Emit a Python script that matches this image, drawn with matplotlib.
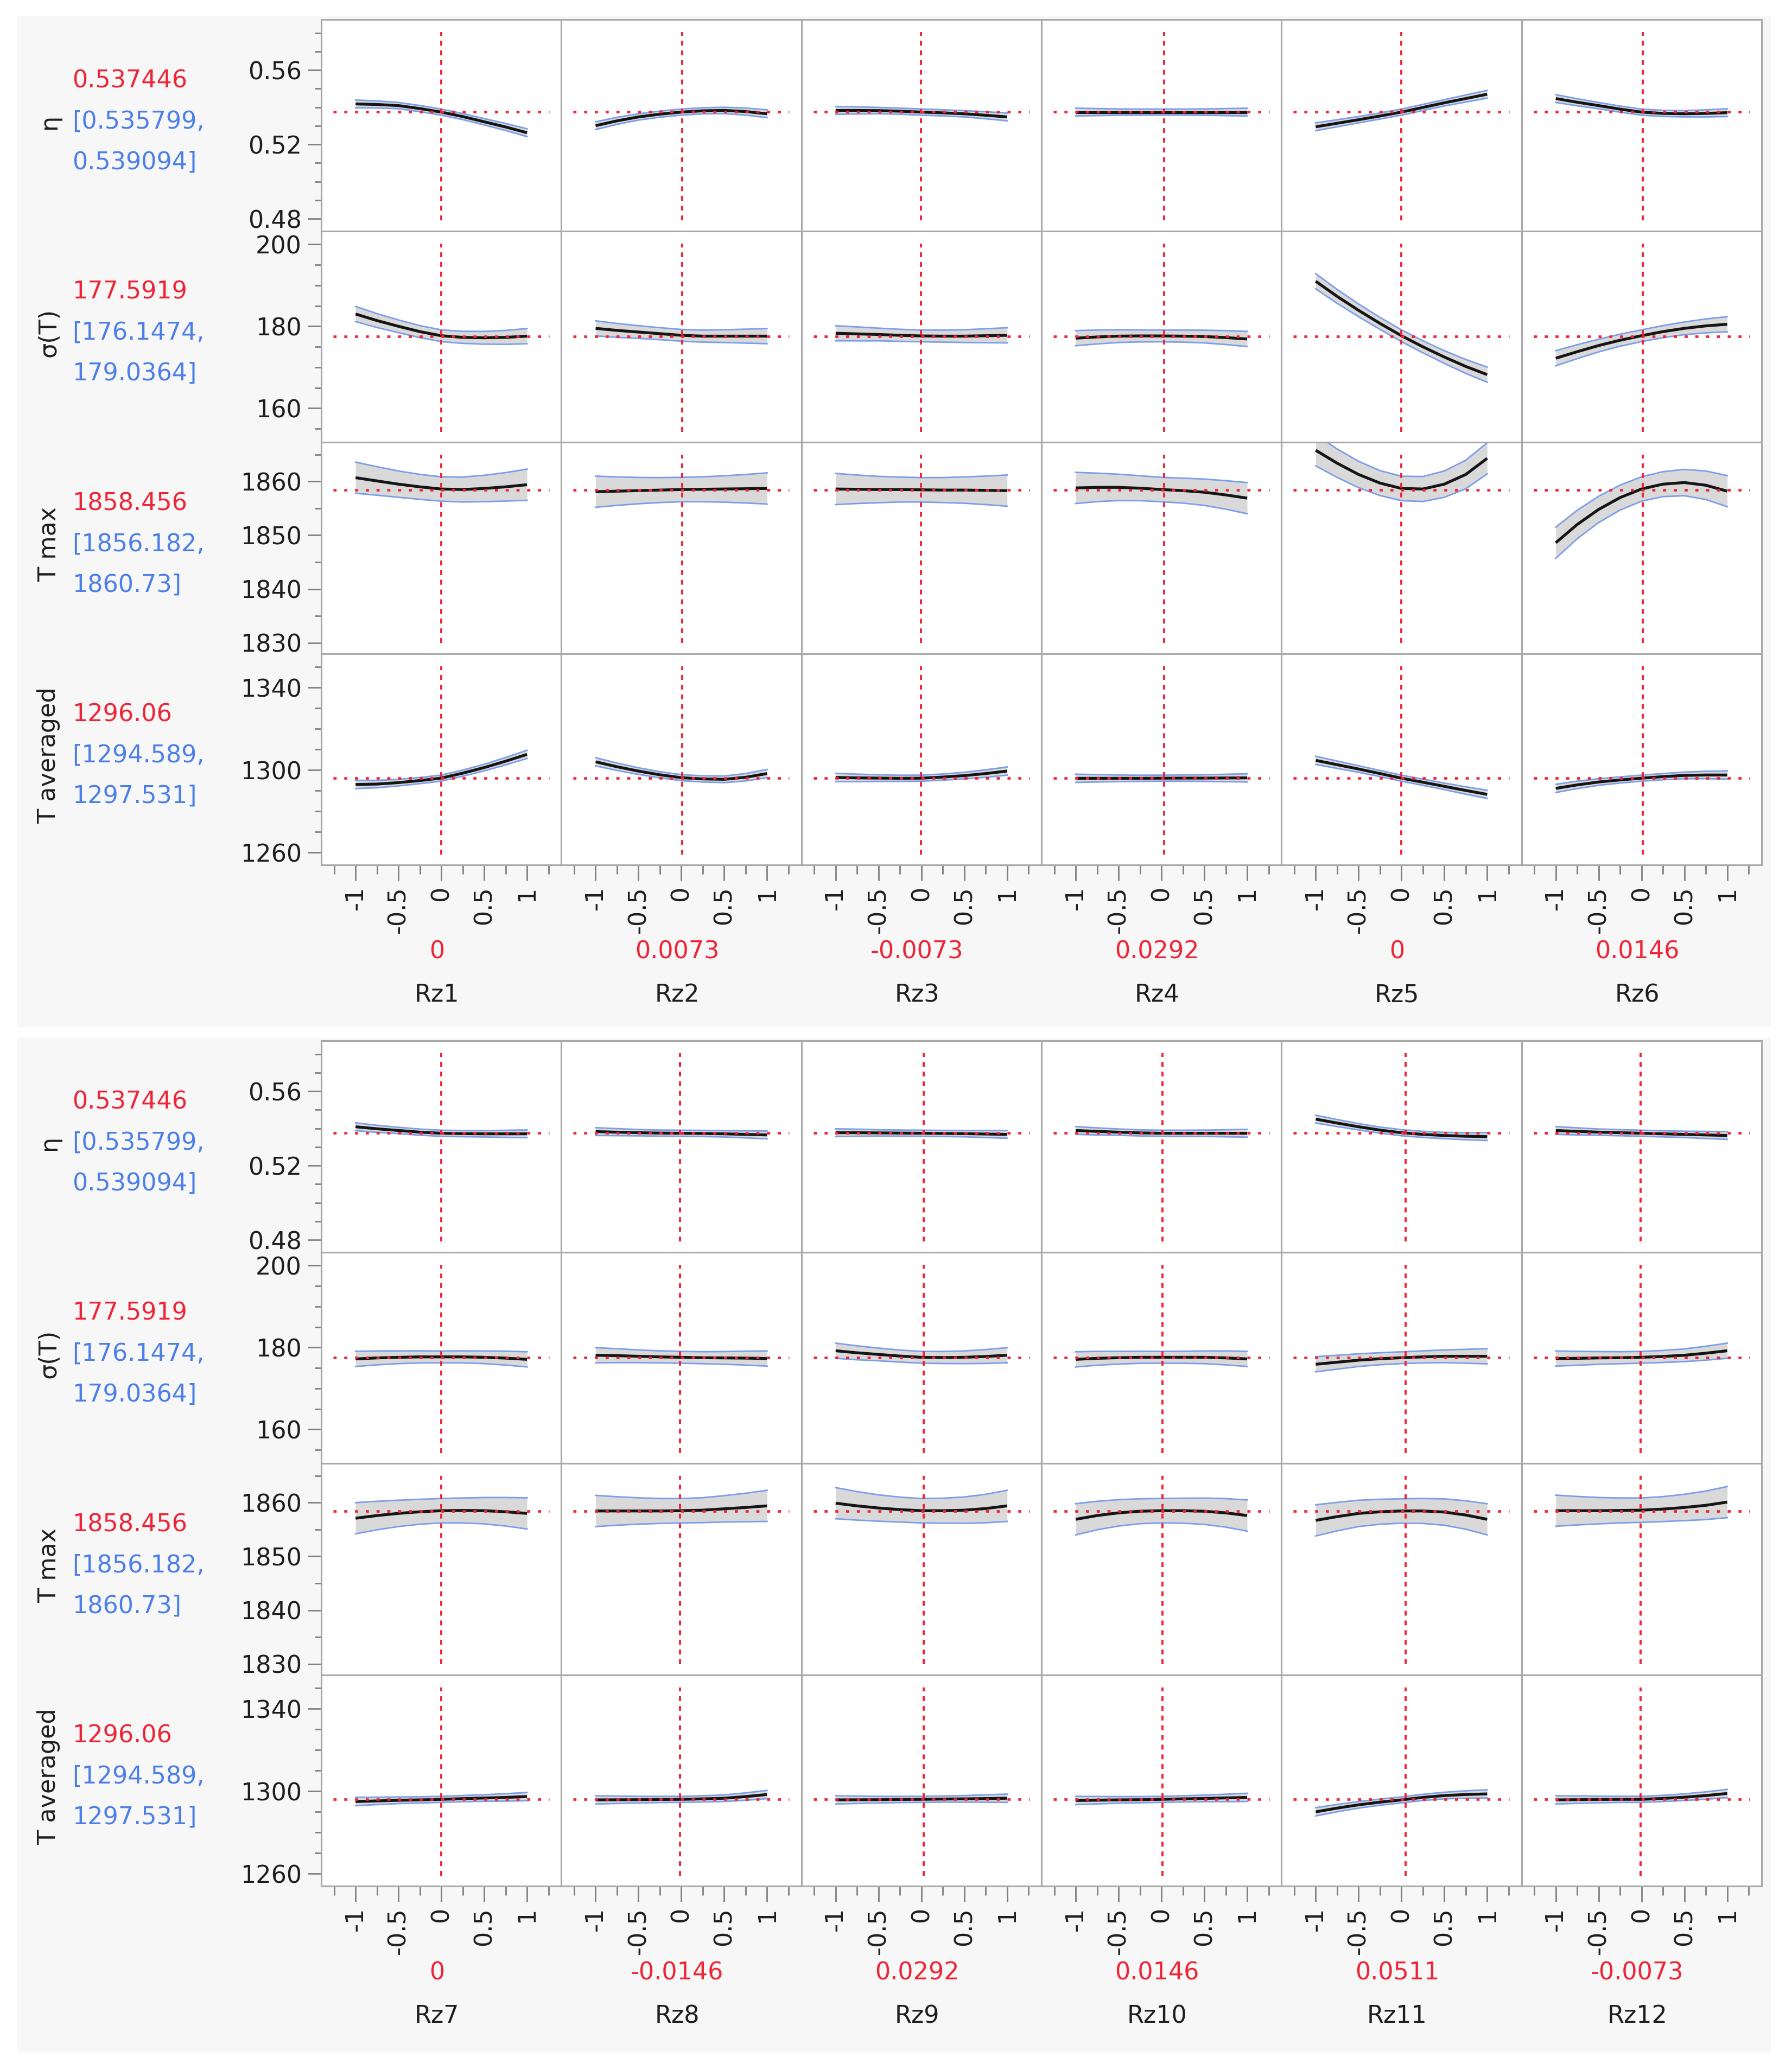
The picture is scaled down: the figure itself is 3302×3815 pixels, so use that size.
'''Prediction profiler: 4 responses against Rz1..Rz12, two blocks of six factors'''
import matplotlib.pyplot as plt
from matplotlib.patches import Rectangle
from matplotlib.ticker import MultipleLocator

# ---- data ----
factors = ['Rz1', 'Rz2', 'Rz3', 'Rz4', 'Rz5', 'Rz6',
           'Rz7', 'Rz8', 'Rz9', 'Rz10', 'Rz11', 'Rz12']
current = [0, 0.0073, -0.0073, 0.0292, 0, 0.0146,
           0, -0.0146, 0.0292, 0.0146, 0.0511, -0.0073]

responses = ['η', 'σ(T)', 'T max', 'T averaged']
pred = [0.537446, 177.5919, 1858.456, 1296.06]
pred_lo = [0.535799, 176.1474, 1856.182, 1294.589]
pred_hi = [0.539094, 179.0364, 1860.73, 1297.531]

x_levels = [-1, -0.75, -0.5, -0.25, 0, 0.25, 0.5, 0.75, 1]

eta_curve = [
    [0.5418, 0.5415, 0.5409, 0.5393, 0.5374, 0.5350, 0.5322, 0.5294, 0.5263],
    [0.5301, 0.5327, 0.5348, 0.5363, 0.5374, 0.5381, 0.5383, 0.5377, 0.5365],
    [0.5383, 0.5383, 0.5382, 0.5379, 0.5374, 0.5370, 0.5365, 0.5357, 0.5348],
    [0.5374, 0.5374, 0.5374, 0.5374, 0.5374, 0.5374, 0.5374, 0.5374, 0.5374],
    [0.5295, 0.5314, 0.5333, 0.5353, 0.5374, 0.5399, 0.5424, 0.5447, 0.5470],
    [0.5447, 0.5427, 0.5409, 0.5390, 0.5374, 0.5367, 0.5365, 0.5367, 0.5371],
    [0.5409, 0.5398, 0.5389, 0.5380, 0.5374, 0.5372, 0.5371, 0.5371, 0.5371],
    [0.5383, 0.5380, 0.5377, 0.5375, 0.5374, 0.5373, 0.5371, 0.5368, 0.5365],
    [0.5377, 0.5377, 0.5376, 0.5375, 0.5374, 0.5373, 0.5372, 0.5370, 0.5368],
    [0.5389, 0.5384, 0.5380, 0.5376, 0.5374, 0.5374, 0.5374, 0.5374, 0.5374],
    [0.5450, 0.5429, 0.5409, 0.5391, 0.5377, 0.5368, 0.5362, 0.5358, 0.5356],
    [0.5389, 0.5384, 0.5380, 0.5377, 0.5374, 0.5371, 0.5368, 0.5365, 0.5362],
]
sigma_curve = [
    [183.0, 181.4, 180.0, 178.7, 177.7, 177.3, 177.2, 177.3, 177.6],
    [179.5, 179.0, 178.6, 178.2, 177.8, 177.6, 177.6, 177.6, 177.6],
    [178.3, 178.15, 178.0, 177.8, 177.65, 177.6, 177.6, 177.7, 177.8],
    [177.1, 177.4, 177.6, 177.65, 177.65, 177.6, 177.5, 177.25, 176.9],
    [191.0, 187.3, 183.9, 180.7, 177.7, 175.0, 172.5, 170.2, 168.2],
    [172.2, 173.8, 175.3, 176.6, 177.7, 178.7, 179.5, 180.1, 180.5],
    [177.2, 177.45, 177.6, 177.7, 177.7, 177.7, 177.6, 177.4, 177.1],
    [178.1, 178.0, 177.85, 177.7, 177.6, 177.5, 177.45, 177.4, 177.3],
    [179.2, 178.7, 178.3, 177.9, 177.6, 177.55, 177.6, 177.8, 178.1],
    [177.1, 177.35, 177.5, 177.6, 177.6, 177.6, 177.6, 177.45, 177.2],
    [175.9, 176.4, 176.9, 177.25, 177.5, 177.7, 177.85, 177.85, 177.85],
    [177.3, 177.35, 177.45, 177.5, 177.6, 177.8, 178.1, 178.6, 179.2],
]
tmax_curve = [
    [1860.7, 1860.1, 1859.5, 1859.0, 1858.6, 1858.5, 1858.7, 1859.0, 1859.4],
    [1858.1, 1858.2, 1858.3, 1858.4, 1858.5, 1858.55, 1858.6, 1858.65, 1858.7],
    [1858.6, 1858.55, 1858.5, 1858.5, 1858.45, 1858.4, 1858.4, 1858.35, 1858.3],
    [1858.8, 1858.9, 1858.9, 1858.75, 1858.5, 1858.3, 1858.0, 1857.5, 1856.9],
    [1865.8, 1863.4, 1861.3, 1859.7, 1858.7, 1858.6, 1859.5, 1861.3, 1864.3],
    [1848.6, 1852.0, 1854.8, 1857.0, 1858.6, 1859.5, 1859.8, 1859.3, 1858.2],
    [1857.1, 1857.6, 1858.0, 1858.3, 1858.5, 1858.55, 1858.5, 1858.3, 1858.0],
    [1858.45, 1858.45, 1858.45, 1858.45, 1858.5, 1858.6, 1858.85, 1859.1, 1859.4],
    [1859.9, 1859.4, 1859.0, 1858.7, 1858.5, 1858.5, 1858.6, 1858.9, 1859.4],
    [1856.9, 1857.6, 1858.1, 1858.4, 1858.5, 1858.5, 1858.4, 1858.1, 1857.6],
    [1856.7, 1857.4, 1858.0, 1858.3, 1858.45, 1858.45, 1858.25, 1857.7, 1856.9],
    [1858.5, 1858.5, 1858.5, 1858.55, 1858.6, 1858.8, 1859.1, 1859.5, 1860.1],
]
tavg_curve = [
    [1293.0, 1293.2, 1293.9, 1294.9, 1296.1, 1298.5, 1301.2, 1304.3, 1307.6],
    [1304.0, 1301.6, 1299.5, 1297.7, 1296.3, 1295.7, 1295.5, 1296.5, 1298.3],
    [1296.4, 1296.2, 1296.1, 1296.0, 1296.06, 1296.6, 1297.3, 1298.3, 1299.5],
    [1296.0, 1296.0, 1296.0, 1296.0, 1296.06, 1296.1, 1296.1, 1296.15, 1296.2],
    [1304.7, 1302.6, 1300.5, 1298.3, 1296.06, 1294.1, 1292.1, 1290.1, 1288.2],
    [1291.1, 1292.8, 1294.2, 1295.2, 1296.06, 1296.8, 1297.4, 1297.6, 1297.6],
    [1295.0, 1295.3, 1295.6, 1295.8, 1296.06, 1296.4, 1296.7, 1297.0, 1297.4],
    [1295.8, 1295.85, 1295.9, 1296.0, 1296.06, 1296.3, 1296.6, 1297.4, 1298.4],
    [1295.8, 1295.85, 1295.9, 1296.0, 1296.06, 1296.2, 1296.3, 1296.45, 1296.6],
    [1295.5, 1295.65, 1295.8, 1295.9, 1296.06, 1296.3, 1296.5, 1296.75, 1297.0],
    [1290.0, 1291.8, 1293.4, 1294.7, 1295.8, 1297.0, 1297.9, 1298.4, 1298.7],
    [1295.8, 1295.9, 1296.0, 1296.06, 1296.06, 1296.5, 1297.1, 1297.9, 1298.9],
]

# half width of the confidence band at each x level (same shape for every factor)
eta_hw = [0.0021, 0.0019, 0.0017, 0.00165, 0.00165, 0.00165, 0.0017, 0.0019, 0.0021]
sigma_hw = [1.85, 1.7, 1.55, 1.47, 1.44, 1.47, 1.55, 1.7, 1.85]
tmax_hw = [2.9, 2.65, 2.45, 2.32, 2.27, 2.32, 2.45, 2.65, 2.9]
tavg_hw = [2.0, 1.8, 1.6, 1.5, 1.47, 1.5, 1.6, 1.8, 2.0]

curves = [eta_curve, sigma_curve, tmax_curve, tavg_curve]
hws = [eta_hw, sigma_hw, tmax_hw, tavg_hw]

# axis settings per response row
ylims = [(0.4735, 0.5872), (151.7, 203.3), (1828.0, 1867.3), (1254.0, 1356.5)]
y_major = [[0.48, 0.52, 0.56], [160, 180, 200], [1830, 1840, 1850, 1860], [1260, 1300, 1340]]
y_minor = [0.01, 5, 5, 10]
x_major = [-1, -0.5, 0, 0.5, 1]

# ---- layout (pixels) ----
W, H = 3302, 3815
col_left, col_w = 592, 442.3
row_h = 389.5
block_tops = [36, 1918]
bg_boxes = [(32, 30, 3231, 1863), (32, 1913, 3231, 1870)]

RED = '#ee2536'
BLUE = '#4d7fe8'
EDGE = '#7b9eea'
FRAME = '#a9a9a9'
TXT = '#1e1e1e'
FS = 32

plt.rcParams['font.family'] = ['DejaVu Sans']
fig = plt.figure(figsize=(W / 100, H / 100), dpi=100)
fig.patch.set_facecolor('white')


def box(x, y, w, h):
    '''pixel box (top-left origin) -> figure fraction rect'''
    return [x / W, 1 - (y + h) / H, w / W, h / H]


for b in range(2):
    bx, by, bw, bh = bg_boxes[b]
    fig.patches.append(Rectangle((bx / W, 1 - (by + bh) / H), bw / W, bh / H,
                                 transform=fig.transFigure, facecolor='#f7f7f7',
                                 edgecolor='none', zorder=-10))
    top = block_tops[b]
    for r in range(4):
        yc = top + r * row_h + row_h / 2
        # response name and predicted value with its interval
        fig.text(90 / W, 1 - (yc - 7) / H, responses[r], rotation=90, ha='center',
                 va='center', fontsize=FS, color=TXT)
        fig.text(133 / W, 1 - (yc - 82) / H, f"{pred[r]}", ha='left', va='center',
                 fontsize=FS, color=RED)
        fig.text(133 / W, 1 - (yc - 7) / H, f"[{pred_lo[r]},", ha='left', va='center',
                 fontsize=FS, color=BLUE)
        fig.text(133 / W, 1 - (yc + 68) / H, f"{pred_hi[r]}]", ha='left', va='center',
                 fontsize=FS, color=BLUE)

        for c in range(6):
            k = b * 6 + c
            ax = fig.add_axes(box(col_left + c * col_w, top + r * row_h, col_w, row_h))
            ax.set_zorder(2)
            ax.set_facecolor('white')
            ax.set_xlim(-1.4, 1.4)
            ax.set_ylim(*ylims[r])
            for s in ax.spines.values():
                s.set_color(FRAME)
                s.set_linewidth(2.2)

            mean = curves[r][k]
            hw = hws[r]
            lo = [m - h for m, h in zip(mean, hw)]
            hi = [m + h for m, h in zip(mean, hw)]
            ax.fill_between(x_levels, lo, hi, color='#d9d9d9', lw=0, zorder=1)
            ax.plot(x_levels, lo, color=EDGE, lw=2, zorder=2)
            ax.plot(x_levels, hi, color=EDGE, lw=2, zorder=2)
            ax.plot(x_levels, mean, color='#151515', lw=3.8, zorder=3,
                    solid_capstyle='butt', solid_joinstyle='round')

            ax.axhline(pred[r], xmin=0.05, xmax=0.95, color=RED, lw=3.4,
                       dashes=(1.2, 3.0), zorder=5)
            ax.axvline(current[k], ymin=0.05, ymax=0.94, color=RED, lw=2.8,
                       dashes=(2.3, 2.3), zorder=5)

            # y axis only on the first column
            if c == 0:
                ax.set_yticks(y_major[r])
                ax.set_yticklabels([f"{v:g}" for v in y_major[r]])
                ax.yaxis.set_minor_locator(MultipleLocator(y_minor[r]))
                ax.tick_params(axis='y', which='major', length=18, width=2,
                               color='#808080', labelsize=FS, labelcolor=TXT, pad=8)
                ax.tick_params(axis='y', which='minor', length=9, width=2,
                               color='#808080')
            else:
                ax.tick_params(axis='y', which='both', left=False, labelleft=False)

            # x axis only on the bottom row
            if r == 3:
                ax.set_xticks(x_major)
                ax.set_xticklabels([f"{v:g}" for v in x_major], rotation=90)
                ax.xaxis.set_minor_locator(MultipleLocator(0.25))
                ax.tick_params(axis='x', which='major', length=21, width=2,
                               color='#808080', labelsize=FS, labelcolor=TXT, pad=7)
                ax.tick_params(axis='x', which='minor', length=12, width=2,
                               color='#808080')
                xc = col_left + c * col_w + col_w / 2 - 8
                ybot = top + 4 * row_h
                fig.text(xc / W, 1 - (ybot + 160) / H, f"{current[k]:g}", ha='center',
                         va='center', fontsize=FS, color=RED)
                fig.text(xc / W, 1 - (ybot + 240) / H, factors[k], ha='center',
                         va='center', fontsize=FS, color=TXT)
            else:
                ax.tick_params(axis='x', which='both', bottom=False, labelbottom=False)

fig.savefig('out.png', dpi=100, facecolor='white')
